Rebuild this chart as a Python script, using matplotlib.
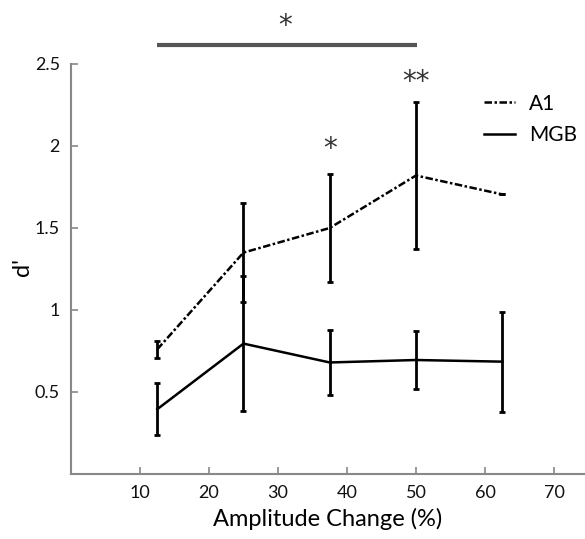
import matplotlib
matplotlib.use("Agg")
import matplotlib.pyplot as plt

plt.rcParams['font.family'] = ['Lato', 'DejaVu Sans']

x = [12.5, 25, 37.5, 50, 62.5]
a1 = [0.76, 1.35, 1.50, 1.82, 1.705]
a1_err = [0.05, 0.30, 0.33, 0.45, 0.0]
mgb = [0.395, 0.795, 0.68, 0.695, 0.685]
mgb_err = [0.16, 0.41, 0.20, 0.175, 0.305]
xticks = [10, 20, 30, 40, 50, 60, 70]
yticks = [0.5, 1, 1.5, 2, 2.5]
ytick_labels = ['0.5', '1', '1.5', '2', '2.5']

fig = plt.figure(figsize=(5.85, 5.39), dpi=100)
ax = fig.add_axes([0.1214, 0.1206, 0.8786, 0.7607])

ax.errorbar(x, a1, yerr=a1_err, color='black', lw=1.8, ls=(0, (3, 1, 1, 1)),
            capsize=2.5, elinewidth=2, capthick=2, label='A1')
ax.errorbar(x, mgb, yerr=mgb_err, color='black', lw=1.8, ls='-',
            capsize=2.5, elinewidth=2, capthick=2, label='MGB')

ax.set_xlim(0, 74.5)
ax.set_ylim(0, 2.5)
ax.set_xticks(xticks)
ax.set_yticks(yticks)
ax.set_yticklabels(ytick_labels)
ax.tick_params(direction='in', length=5, width=1.2, color='#888888', labelsize=13,
               pad=8, labelcolor='#111111')
for s in ['top', 'right']:
    ax.spines[s].set_visible(False)
for s in ['left', 'bottom']:
    ax.spines[s].set_color('#888888')
    ax.spines[s].set_linewidth(1.5)

ax.set_xlabel('Amplitude Change (%)', fontsize=17, labelpad=5)
ax.set_ylabel("d'", fontsize=17)
ax.yaxis.set_label_coords(-0.074, 0.505)

# significance annotations
star_font = dict(family='DejaVu Sans', fontsize=20, ha='center', va='baseline',
                 color='#333333')
ax.plot([12.5, 50.2], [2.618, 2.618], color='#555555', lw=3, clip_on=False,
        solid_capstyle='butt')
ax.text(31.0, 2.68, '*', **star_font)
ax.text(37.5, 1.935, '*', **star_font)
ax.text(50, 2.34, '**', **star_font)

h, l = ax.get_legend_handles_labels()
leg = ax.legend([hh[0] for hh in h], l, loc='upper left', bbox_to_anchor=(0.8035, 0.928),
                frameon=False, fontsize=15, handlelength=1.5, handletextpad=0.65,
                labelspacing=0.55, borderaxespad=0, borderpad=0)

fig.savefig('out.png', dpi=100)
